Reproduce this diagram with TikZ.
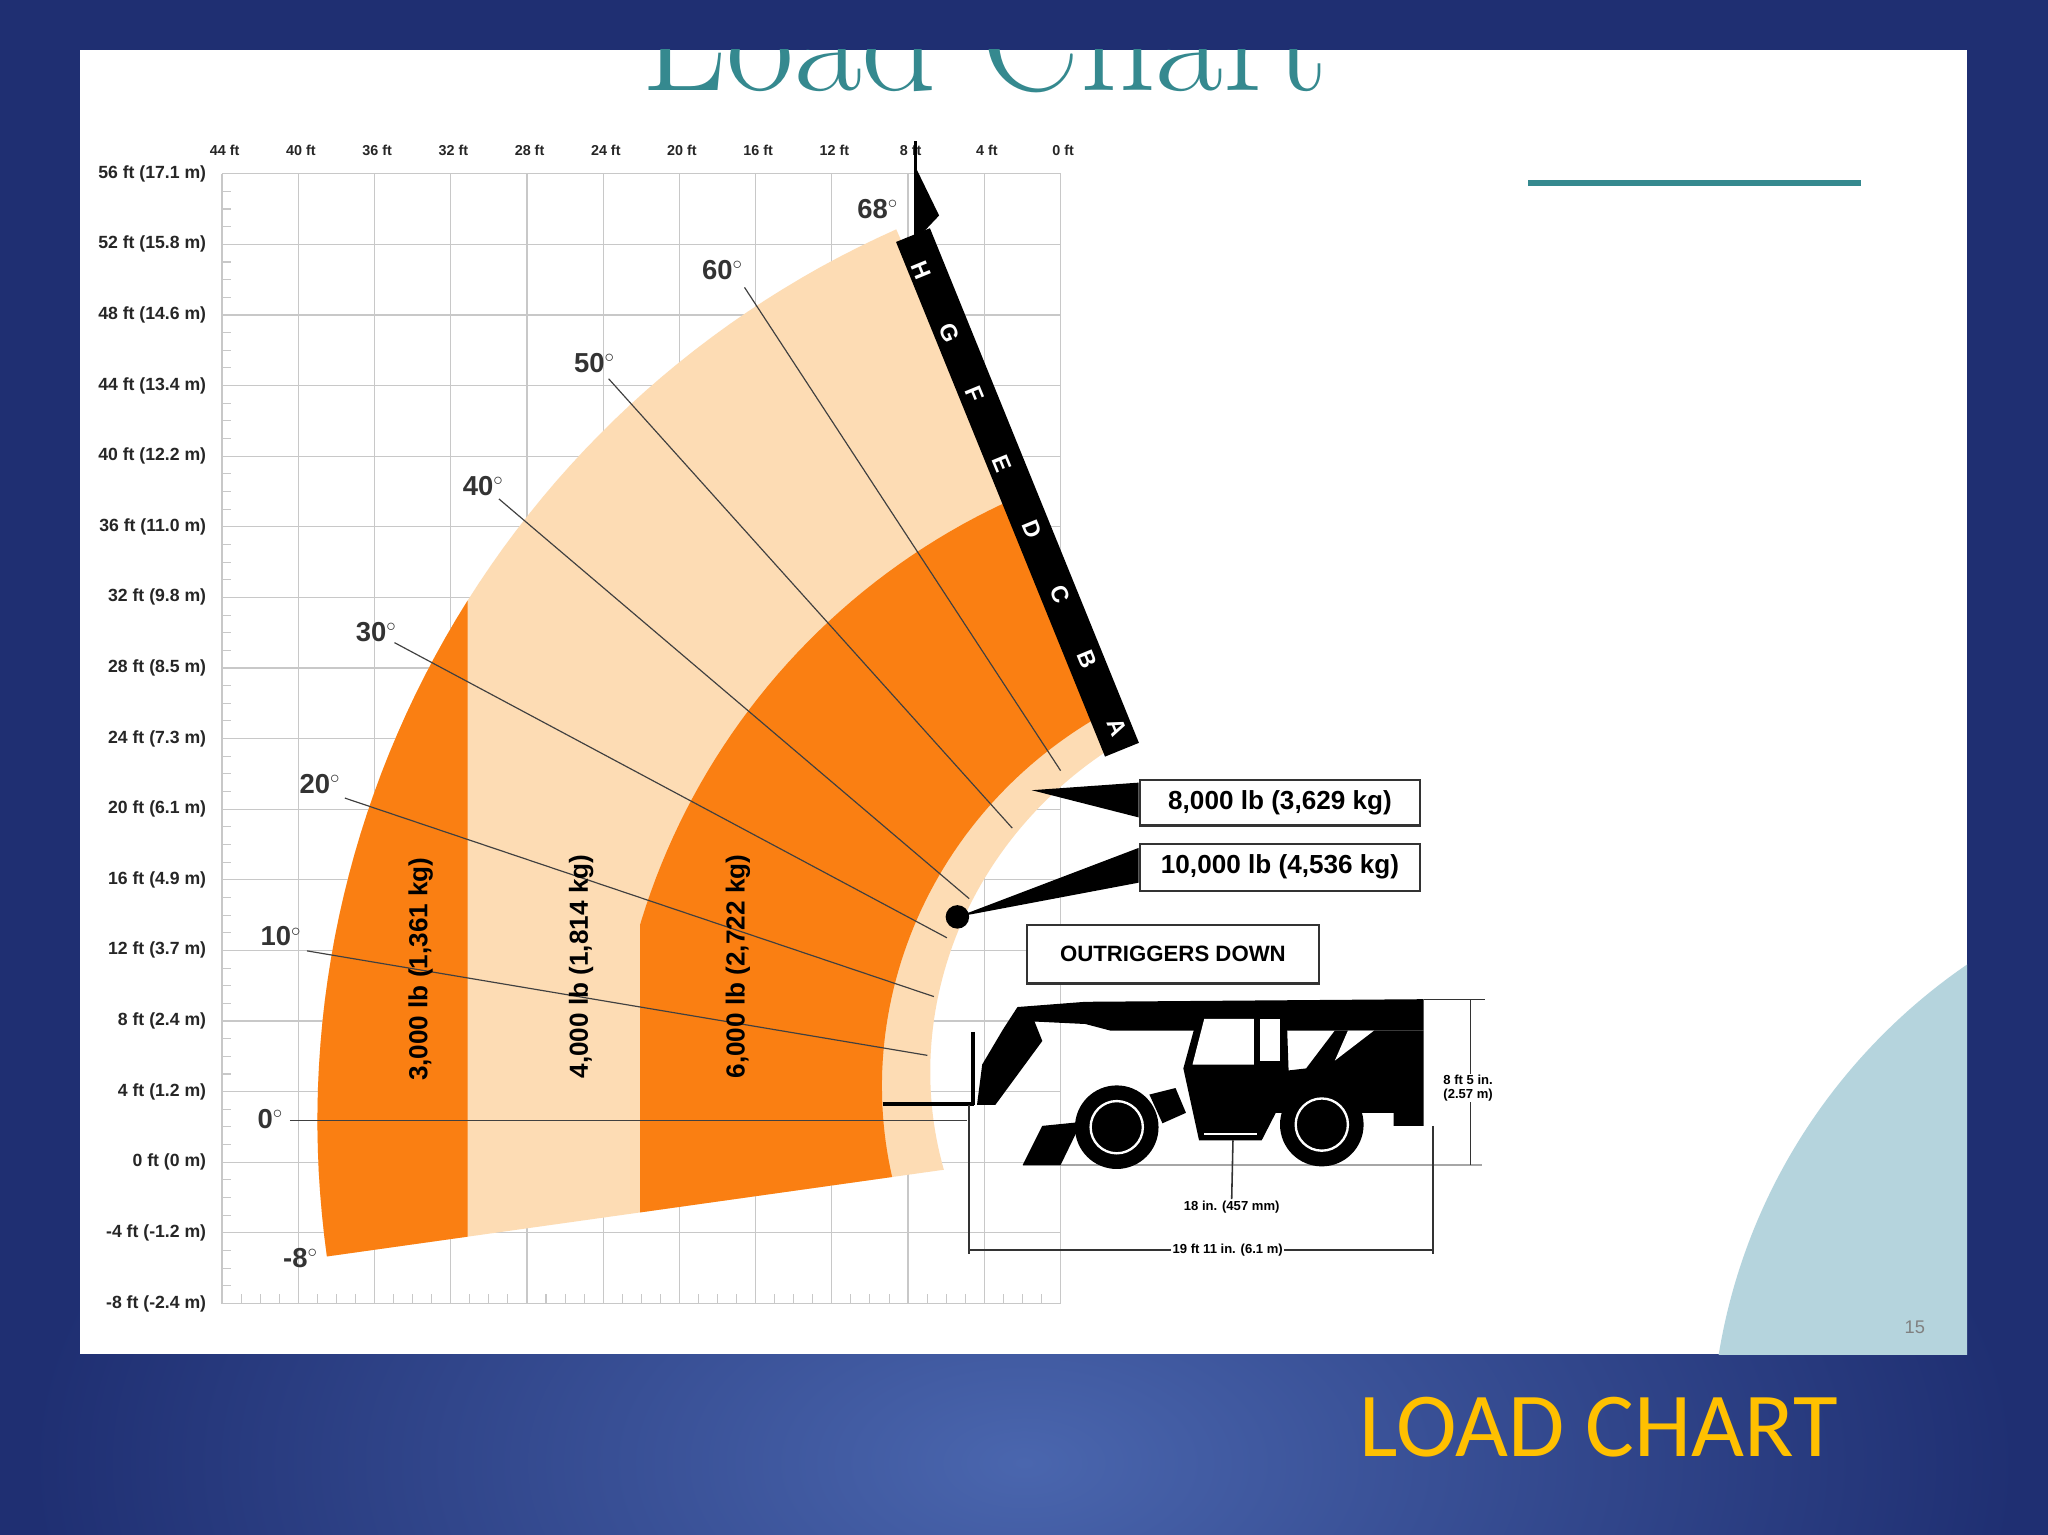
\documentclass[tikz,border=0pt]{standalone}
\usepackage{fontspec}
\setsansfont{Liberation Sans}
\newfontfamily\calib{Carlito}
\usetikzlibrary{calc}
\definecolor{bgblue}{HTML}{1F2F72}
\definecolor{bgmid}{HTML}{4A66AE}
\definecolor{peach}{HTML}{FDDCB4}
\definecolor{orng}{HTML}{FA7F12}
\definecolor{gridc}{HTML}{C8C8C8}
\definecolor{teal1}{HTML}{35898F}
\definecolor{lblue}{HTML}{B5D4DD}
\definecolor{gold}{HTML}{FFC000}
\tikzset{
 gridline/.style={draw=gridc,line width=0.9},
 axlab/.style={font=\sffamily\bfseries\fontsize{13.5}{14}\selectfont,text=black!85,inner sep=0},
 toplab/.style={font=\sffamily\bfseries\fontsize{11}{11}\selectfont,text=black!85,inner sep=0},
 anglab/.style={font=\sffamily\bfseries\fontsize{21}{21}\selectfont,text=black!80,inner sep=0},
 angline/.style={draw=black!75,line width=0.9},
 bandlab/.style={font=\sffamily\bfseries\fontsize{20}{20}\selectfont,rotate=90,inner sep=0},
 letter/.style={font=\sffamily\bfseries\fontsize{18}{18}\selectfont,text=white,rotate=-67.7,inner sep=0},
 loadbox/.style={draw=black!80,line width=1.6,fill=white,font=\sffamily\bfseries\fontsize{20}{20}\selectfont,inner sep=0,minimum width=215,minimum height=35},
 dimtext/.style={font=\sffamily\bfseries\fontsize{10}{10.5}\selectfont,inner sep=1,fill=white,align=center},
}
\begin{document}
\begin{tikzpicture}[x=1pt,y=-1pt]
\useasboundingbox (0,0) rectangle (1568,1175);
\fill[bgblue] (0,0) rectangle (1568,1175);
\shade[inner color=bgmid,outer color=bgblue] (784,1120) ellipse (760 and 420);
\fill[white] (61,38) rectangle (1506,1037);
\begin{scope}
\clip (61,38) rectangle (1506,1037);
\fill[lblue] (1760,1110) circle (450);
\node[anchor=base,font=\fontsize{113}{113}\selectfont,text=teal1,inner sep=0] (title) at (754,69) {Load Chart};
\foreach \k in {0,...,11} \draw[gridline] ({170+58.36*\k},133) -- ({170+58.36*\k},998);
\foreach \j in {0,...,16} \draw[gridline] (170,{133+54.06*\j}) -- (812,{133+54.06*\j});
\foreach \j in {0,...,64} \draw[gridc,line width=0.8] (170,{133+13.515*\j}) -- (177,{133+13.515*\j});
\foreach \j in {0,...,44} \draw[gridc,line width=0.8] ({170+14.59*\j},998) -- ({170+14.59*\j},991);
\foreach \f/\m [count=\i from 0] in {56/17.1,52/15.8,48/14.6,44/13.4,40/12.2,36/11.0,32/9.8,28/8.5,24/7.3,20/6.1,16/4.9,12/3.7,8/2.4,4/1.2,0/0,-4/-1.2,-8/-2.4}
  \node[axlab,anchor=east] (yl\i) at (158,{133+54.06*\i}) {\f\ ft (\m\ m)};
\foreach \f [count=\i from 0] in {44,40,36,32,28,24,20,16,12,8,4,0}
  \node[toplab] (xl\i) at ({172+58.36*\i},115) {\f\ ft};
\end{scope}
\fill[peach] plot[domain=-8:66,samples=60] ({990-747*cos(\x)},{858-747*sin(\x)}) -- plot[domain=66:-8,samples=60] ({990-(270+50*(\x+8)/76)*cos(\x)},{858-(270+50*(\x+8)/76)*sin(\x)}) -- cycle;
\begin{scope}
\clip (0,0) rectangle (358,1100);
\fill[orng] plot[domain=-8:66,samples=60] ({990-747*cos(\x)},{858-747*sin(\x)}) -- (990,858) -- cycle;
\end{scope}
\begin{scope}
\clip (490,0) rectangle (1200,1100);
\fill[orng] plot[domain=-8:66,samples=60] ({990-522*cos(\x)},{858-522*sin(\x)}) -- plot[domain=66:-8,samples=60] ({990-(310+35*(\x+8)/76)*cos(\x)},{858-(310+35*(\x+8)/76)*sin(\x)}) -- cycle;
\end{scope}
\node[anglab] (a68) at (672,160) {68$^\circ$};
\node[anglab] (a60) at (553,207) {60$^\circ$};
\node[anglab] (a50) at (455,278) {50$^\circ$};
\node[anglab] (a40) at (370,372) {40$^\circ$};
\node[anglab] (a30) at (288,484) {30$^\circ$};
\node[anglab] (a20) at (245,600) {20$^\circ$};
\node[anglab] (a10) at (215,717) {10$^\circ$};
\node[anglab] (a0) at (207,857) {0$^\circ$};
\node[anglab] (am8) at (230,963) {-8$^\circ$};
\coordinate (e0) at (740,858);
\coordinate (e10) at (710,808);
\coordinate (e20) at (715,763);
\coordinate (e30) at (725,718);
\coordinate (e40) at (742,688);
\coordinate (e50) at (775,634);
\coordinate (e60) at (812,590);
\draw[angline] (222,858) -- (e0);
\draw[angline] (235,728) -- (e10);
\draw[angline] (264,611) -- (e20);
\draw[angline] (302,492) -- (e30);
\draw[angline] (382,382) -- (e40);
\draw[angline] (466,290) -- (e50);
\draw[angline] (570,220) -- (e60);
\node[bandlab] (l3) at (322,742) {3,000 lb (1,361 kg)};
\node[bandlab] (l4) at (445,740) {4,000 lb (1,814 kg)};
\node[bandlab] (l6) at (565,740) {6,000 lb (2,722 kg)};
\coordinate (bt) at (699,180);
\coordinate (bb) at (859,574);
\draw[line width=28] (bt) -- (bb);
\draw[line width=2.5] (701,108) -- (701,182);
\fill (701,128) -- (719,165) -- (701,184) -- cycle;
\foreach \L/\px/\py in {H/705/207,G/727/255,F/746/302,E/767/355,D/790/405,C/812/455,B/832/505,A/855/557}
  \node[letter] (let\L) at (\px,\py) {\L};
\node[loadbox] (b8) at (980,614.5) {8,000 lb (3,629 kg)};
\node[loadbox,minimum height=36] (b10) at (980,664) {10,000 lb (4,536 kg)};
\node[loadbox,minimum width=223,minimum height=45,font=\sffamily\bfseries\fontsize{17}{17}\selectfont] (bout) at (898,730.5) {OUTRIGGERS DOWN};
\coordinate (t8) at (790,605);
\coordinate (t10) at (733,702);
\fill (t8) -- ($(b8.north west)+(0,3)$) -- ($(b8.south west)+(0,-7)$) -- cycle;
\fill (t10) -- ($(b10.north west)+(0,4)$) -- ($(b10.south west)+(0,-7)$) -- cycle;
\fill (t10) circle (9);
\draw[gray!70,line width=2] (783,892) -- (1135,892);
\fill (779,771) -- (831,767) -- (1090,765) -- (1090,789) -- (850,789) -- (831,784) -- (790,782) -- cycle;
\fill (779,771) -- (792,782) -- (798,797) -- (762,846) -- (748,846) -- (752,815) -- (768,788) -- cycle;
\draw[line width=3] (745,790) -- (745,846);
\draw[line width=3] (676,845) -- (746,845);
\fill (965,822) -- (1000,818) -- (1022,789) -- (1090,789) -- (1090,862) -- (1067,862) -- (1067,852) -- (965,852) -- cycle;
\fill[white] (1022,812) -- (1052,789) -- (1032,789) -- cycle;
\fill (918,774) -- (985,774) -- (987,832) -- (966,873) -- (918,873) -- (906,818) -- cycle;
\fill[white] (922,780) -- (960,780) -- (960,815) -- (913,815) -- cycle;
\fill[white] (965,780) -- (980,780) -- (980,812) -- (965,812) -- cycle;
\draw[white,line width=1.5] (922,868) -- (962,868);
\fill (783,892) -- (798,862) -- (828,859) -- (812,892) -- cycle;
\fill (880,838) -- (900,833) -- (908,852) -- (890,860) -- cycle;
\foreach \cx/\cy in {855/863,1012/861} {
  \fill (\cx,\cy) circle (32);
  \draw[white,line width=1.8] (\cx,\cy) circle (20);
}
\draw[black!80,line width=1] (1090,765) -- (1137,765);
\draw[black!80,line width=1.2] (1126,765) -- (1126,892);
\node[dimtext] (hdim) at (1124,833) {8 ft 5 in.\\(2.57 m)};
\draw[black!80,line width=1.2] (742,846) -- (742,960);
\draw[black!80,line width=1.2] (1097,862) -- (1097,960);
\node[dimtext] (ldim) at (940,957) {19 ft 11 in. (6.1 m)};
\draw[black!80,line width=1.2] (742,957) -- (ldim.west);
\draw[black!80,line width=1.2] (ldim.east) -- (1097,957);
\node[dimtext] (gdim) at (943,924) {18 in. (457 mm)};
\draw[black!80,line width=1.2] (944,873) -- (gdim.north);
\draw[teal1,line width=5] (1170,140) -- (1425,140);
\node[font=\sffamily\fontsize{14}{14}\selectfont,text=gray] (pg) at (1466,1016) {15};
\node[font=\calib\fontsize{70}{70}\selectfont,text=gold,inner sep=0] (cap) at (1224,1093) {LOAD CHART};
\end{tikzpicture}
\end{document}
